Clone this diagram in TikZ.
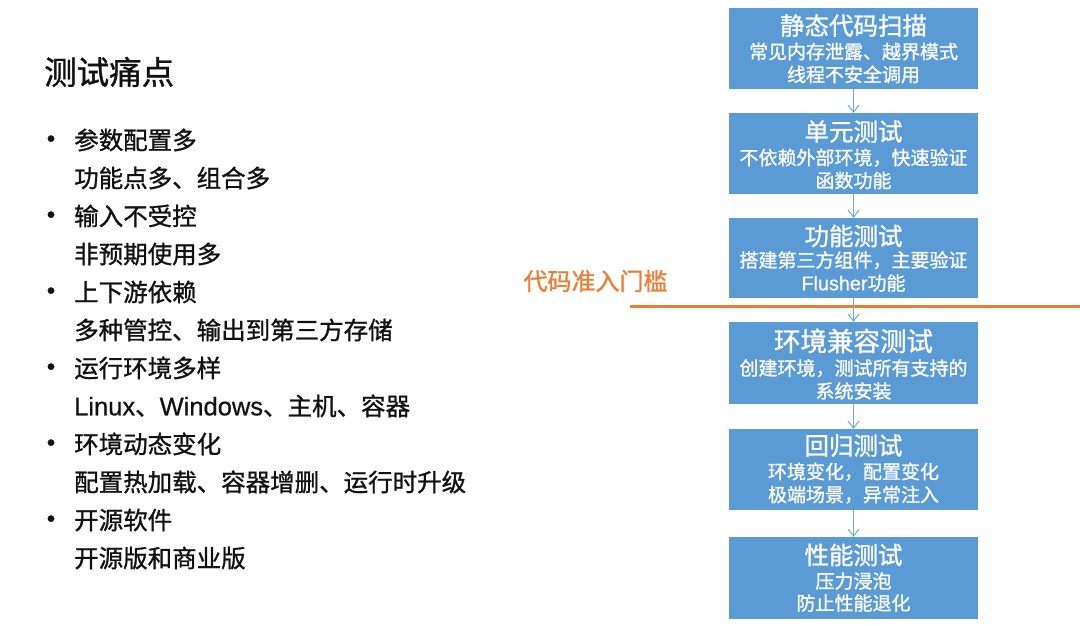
\documentclass[tikz,border=0pt]{standalone}
\usepackage{fontspec}
\setmainfont{Noto Sans CJK SC}[FakeBold=1]
\newfontfamily\latf{Liberation Sans}[FakeBold=0.6]
\usetikzlibrary{arrows.meta,calc}
\definecolor{boxblue}{HTML}{5B9BD5}
\definecolor{arrblue}{HTML}{6FA8DC}
\definecolor{orangeline}{HTML}{ED7D31}
\definecolor{txtblack}{HTML}{111111}
\begin{document}
\begin{tikzpicture}[x=1pt,y=-1pt,
  stagebox/.style={draw=none,fill=boxblue,minimum width=249pt,inner sep=0pt},
  ttl/.style={text=white,inner sep=0pt,font=\fontsize{24.5}{28}\selectfont,text height=21.56pt,text depth=2.94pt},
  sub/.style={text=white,inner sep=0pt,font=\fontsize{19}{22}\selectfont,text height=16.72pt,text depth=2.28pt},
  item/.style={anchor=west,text=txtblack,inner sep=0pt,font=\fontsize{24.5}{28}\selectfont,text height=21.56pt,text depth=2.94pt},
  bul/.style={text=txtblack,inner sep=0pt,font=\latf\fontsize{24}{26}\selectfont},
  flowarr/.style={draw=arrblue,line width=1pt,-{Straight Barb[length=7pt,width=11pt,line width=1pt]}},
  gate/.style={draw=orangeline,line width=3pt}]
\useasboundingbox[fill=white] (0,0) rectangle (1080,625);

% left column
\node[anchor=west,text=txtblack,inner sep=0pt,font=\fontsize{32.5}{36}\selectfont,text height=28.6pt,text depth=3.9pt] (title) at (44,72) {测试痛点};

\node[bul] (d1) at (51,141) {•};
\node[item] (l1) at (74,140) {参数配置多};
\node[item] (l2) at (74,178) {功能点多、组合多};
\node[bul] (d2) at (51,217) {•};
\node[item] (l3) at (74,216) {输入不受控};
\node[item] (l4) at (74,254) {非预期使用多};
\node[bul] (d3) at (51,293) {•};
\node[item] (l5) at (74,292) {上下游依赖};
\node[item] (l6) at (74,330) {多种管控、输出到第三方存储};
\node[bul] (d4) at (51,369) {•};
\node[item] (l7) at (74,368) {运行环境多样};
\node[item] (l8) at (74,406) {{\latf\fontsize{25.5}{28}\selectfont Linux}、{\latf\fontsize{25.5}{28}\selectfont Windows}、主机、容器};
\node[bul] (d5) at (51,445) {•};
\node[item] (l9) at (74,444) {环境动态变化};
\node[item] (l10) at (74,482) {配置热加载、容器增删、运行时升级};
\node[bul] (d6) at (51,521) {•};
\node[item] (l11) at (74,520) {开源软件};
\node[item] (l12) at (74,558) {开源版和商业版};

% gate line and label
\coordinate (gl) at (630,306);
\coordinate (gr) at (1080,306);
\draw[gate] (gl) -- (gr);
\node[text=orangeline,inner sep=0pt,font=\fontsize{24}{28}\selectfont,text height=21.12pt,text depth=2.88pt] (gatelbl) at (595.5,281) {代码准入门槛};

% boxes
\node[stagebox,minimum height=81pt] (b1) at (853.5,48.5) {};
\node[stagebox,minimum height=81pt] (b2) at (853.5,153.5) {};
\node[stagebox,minimum height=80pt] (b3) at (853.5,258) {};
\node[stagebox,minimum height=82pt] (b4) at (853.5,363) {};
\node[stagebox,minimum height=81pt] (b5) at (853.5,469.5) {};
\node[stagebox,minimum height=82pt] (b6) at (853.5,578) {};

\node[ttl] (b1t) at ($(b1.center)+(0,-23)$) {静态代码扫描};
\node[sub] (b1a) at ($(b1.center)+(0,3)$) {常见内存泄露、越界模式};
\node[sub] (b1b) at ($(b1.center)+(0,26)$) {线程不安全调用};

\node[ttl] (b2t) at ($(b2.center)+(0,-22)$) {单元测试};
\node[sub] (b2a) at ($(b2.center)+(0,4)$) {不依赖外部环境，快速验证};
\node[sub] (b2b) at ($(b2.center)+(0,27)$) {函数功能};

\node[ttl] (b3t) at ($(b3.center)+(0,-22)$) {功能测试};
\node[sub] (b3a) at ($(b3.center)+(0,2)$) {搭建第三方组件，主要验证};
\node[sub] (b3b) at ($(b3.center)+(0,25)$) {{\latf\fontsize{19.8}{22}\selectfont Flusher}功能};

\node[ttl,font=\fontsize{26.5}{30}\selectfont,text height=23.32pt,text depth=3.18pt] (b4t) at ($(b4.center)+(0,-22)$) {环境兼容测试};
\node[sub] (b4a) at ($(b4.center)+(0,5)$) {创建环境，测试所有支持的};
\node[sub] (b4b) at ($(b4.center)+(0,28)$) {系统安装};

\node[ttl] (b5t) at ($(b5.center)+(0,-24)$) {回归测试};
\node[sub] (b5a) at ($(b5.center)+(0,2)$) {环境变化，配置变化};
\node[sub] (b5b) at ($(b5.center)+(0,25)$) {极端场景，异常注入};

\node[ttl] (b6t) at ($(b6.center)+(0,-23)$) {性能测试};
\node[sub] (b6a) at ($(b6.center)+(0,3)$) {压力浸泡};
\node[sub] (b6b) at ($(b6.center)+(0,25)$) {防止性能退化};

% arrows
\draw[flowarr] (b1.south) -- (b2.north);
\draw[flowarr] (b2.south) -- (b3.north);
\draw[flowarr] (b3.south) -- (b4.north);
\draw[flowarr] (b4.south) -- (b5.north);
\draw[flowarr] (b5.south) -- (b6.north);
\end{tikzpicture}
\end{document}
